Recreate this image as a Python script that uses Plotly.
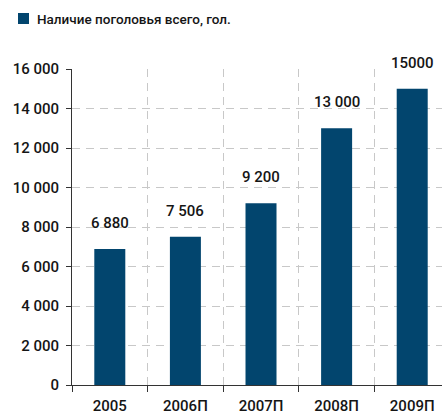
import plotly.graph_objects as go

# Поголовье по годам (П — прогноз)
years = ["2005", "2006П", "2007П", "2008П", "2009П"]
herd = [6880, 7506, 9200, 13000, 15000]
value_labels = ["6 880", "7 506", "9 200", "13 000", "15000"]
y_ticks = [0, 2000, 4000, 6000, 8000, 10000, 12000, 14000, 16000]
y_tick_labels = ["0", "2 000", "4 000", "6 000", "8 000", "10 000", "12 000", "14 000", "16 000"]
series_name = "Наличие поголовья всего, гол."

BAR = "#02456e"
TEXT = "#151515"
GRID = "#c8c8c8"
FONT = "Roboto, Liberation Sans, sans-serif"
TICKFONT = dict(family=FONT, size=15, color=TEXT, weight=500)

fig = go.Figure()
fig.add_trace(go.Bar(
    x=years, y=herd, name=series_name,
    marker=dict(color=BAR, line=dict(width=0)), width=0.41,
    showlegend=False,
))

# value labels above bars (category index as x position)
for i, (val, lab) in enumerate(zip(herd, value_labels)):
    fig.add_annotation(x=i, y=val, xref="x", yref="y", text=lab, showarrow=False,
                       yanchor="bottom", yshift=15, font=TICKFONT)

# legend key: colour swatch + series name
fig.add_shape(type="rect", xref="paper", yref="paper",
              x0=-54 / 370, x1=-43 / 370, y0=(385 - 24) / 316, y1=(385 - 13) / 316,
              fillcolor=BAR, line=dict(width=0))
fig.add_annotation(xref="paper", yref="paper", x=-37 / 370, y=(385 - 18.5) / 316,
                   xanchor="left", yanchor="middle", showarrow=False,
                   text=series_name,
                   font=dict(family=FONT, size=13.5, color=TEXT, weight=500))

fig.update_layout(
    width=442, height=416,
    margin=dict(l=72, r=0, t=69, b=31),
    paper_bgcolor="white", plot_bgcolor="white",
    font=dict(family=FONT, color=TEXT),
    showlegend=False,
)

fig.update_xaxes(
    type="category", range=[-0.5, 4.394], tickson="boundaries",
    showline=True, linecolor="#333333", linewidth=1,
    ticks="outside", ticklen=6, tickcolor="#333333",
    showgrid=True, gridcolor=GRID, griddash="8px,6px", gridwidth=1,
    tickfont=TICKFONT,
    ticklabelstandoff=7, automargin=False,
    zeroline=False, fixedrange=True,
)
fig.update_yaxes(
    range=[0, 16000], tickvals=y_ticks, ticktext=y_tick_labels,
    showline=True, linecolor="#333333", linewidth=1,
    ticks="outside", ticklen=5, tickcolor="#333333",
    showgrid=True, gridcolor=GRID, griddash="8px,6px", gridwidth=1,
    tickfont=TICKFONT,
    ticklabelstandoff=4, automargin=False,
    zeroline=False, fixedrange=True,
)

fig.write_html("out.html")
